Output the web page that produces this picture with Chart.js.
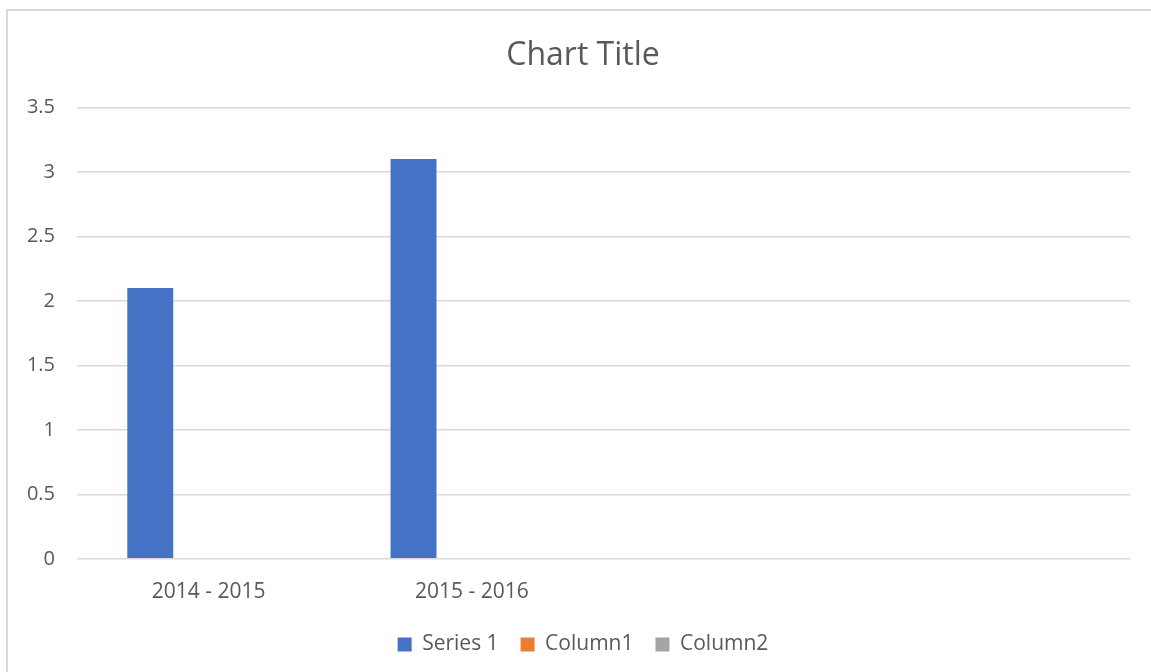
<!DOCTYPE html>
<html>
<head>
<meta charset="utf-8">
<script src="https://cdn.jsdelivr.net/npm/chart.js@4.4.1/dist/chart.umd.min.js"></script>
<style>
  html, body { margin: 0; padding: 0; background: #fff; overflow: hidden; }
  #frame {
    position: absolute; left: 6px; top: 9px;
    width: 1154px; height: 680px;
    border-left: 2px solid #d9d9d9; border-top: 2px solid #d9d9d9;
  }
  #frame canvas { display: block; }
</style>
</head>
<body>
<div id="frame"><canvas id="barChart" width="1152" height="678"></canvas></div>
<script>
// categories and series
const categories = ['2014 - 2015', '2015 - 2016', '', ''];
const series1 = [2.1, 3.1, null, null];
const column1 = [null, null, null, null];
const column2 = [null, null, null, null];

// value axis
const yMax = 3.5;
const yStep = 0.5;
const yTickLabels = ['0', '0.5', '1', '1.5', '2', '2.5', '3', '3.5'];

const textColor = '#595959';
const fontFamily = '"Open Sans", sans-serif';

const ctx = document.getElementById('barChart').getContext('2d');

// bar chart, three series per category
const barChart = new Chart(ctx, {
    type: 'bar',
    data: {
        labels: categories,
        datasets: [
            { label: 'Series 1', data: series1, backgroundColor: '#4472C4' },
            { label: 'Column1', data: column1, backgroundColor: '#ED7D31' },
            { label: 'Column2', data: column2, backgroundColor: '#A5A5A5' }
        ]
    },
    options: {
        responsive: false,
        animation: false,
        devicePixelRatio: 1,
        categoryPercentage: 0.665,
        barPercentage: 0.787,
        layout: {
            padding: { left: 16, right: 18, top: 10, bottom: 24 }
        },
        plugins: {
            title: {
                display: true,
                text: 'Chart Title',
                color: textColor,
                font: { family: fontFamily, size: 32, weight: 'normal' },
                padding: { top: 16, bottom: 32 }
            },
            legend: {
                position: 'bottom',
                labels: {
                    color: textColor,
                    font: { family: fontFamily, size: 21 },
                    boxWidth: 14,
                    boxHeight: 14,
                    padding: 22
                }
            },
            tooltip: { enabled: false }
        },
        scales: {
            x: {
                grid: { display: false },
                border: { display: false },
                ticks: {
                    color: textColor,
                    font: { family: fontFamily, size: 21 },
                    padding: 13
                },
                afterFit: (scale) => { scale.height -= 6; }
            },
            y: {
                min: 0,
                max: yMax,
                border: { display: false },
                grid: { color: '#d9d9d9', lineWidth: 1.5, drawTicks: false },
                ticks: {
                    stepSize: yStep,
                    color: textColor,
                    font: { family: fontFamily, size: 20 },
                    padding: 22,
                    callback: (value, index) => yTickLabels[index]
                },
                afterFit: (scale) => { scale.width = 53; }
            },
            // empty strip on the right so title and legend sit centred
            yRight: {
                position: 'right',
                grid: { display: false },
                border: { display: false },
                ticks: { display: false },
                afterFit: (scale) => { scale.width = 12; }
            }
        }
    }
});
</script>
</body>
</html>
